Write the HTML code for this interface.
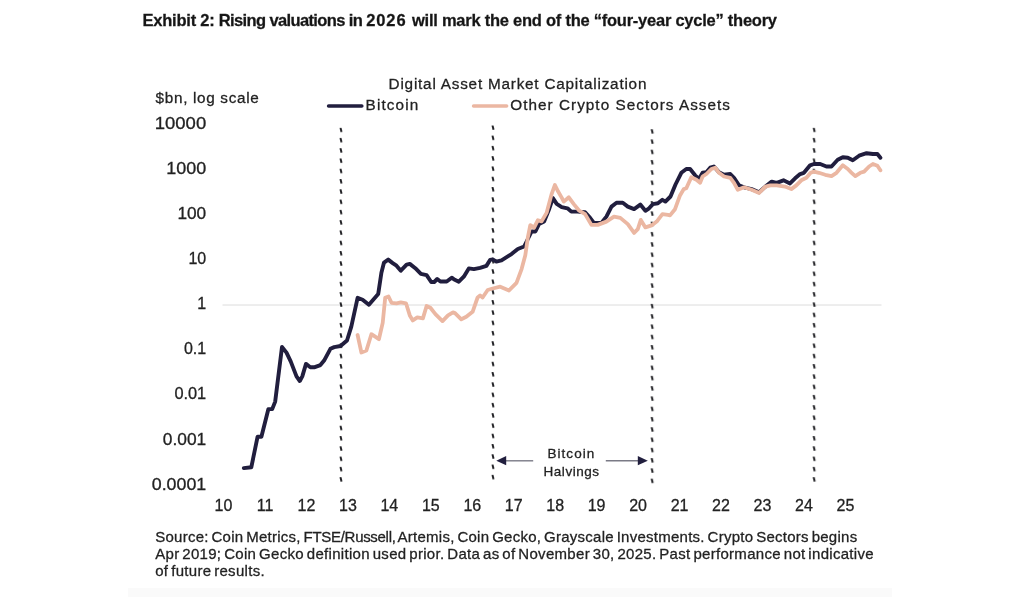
<!DOCTYPE html>
<html><head><meta charset="utf-8"><title>Exhibit 2</title>
<style>
html,body{margin:0;padding:0;background:#fff;}
body{width:1024px;height:597px;position:relative;overflow:hidden;font-family:"Liberation Sans",sans-serif;color:#222;-webkit-text-stroke:0.28px #222;}
.t{position:absolute;white-space:nowrap;}
#title{left:142.6px;top:10.18px;font-size:16.5px;font-weight:bold;color:#151515;line-height:20px;letter-spacing:-0.246px;}
#ctitle{left:388.6px;top:73.60px;font-size:15.3px;line-height:20px;letter-spacing:0.781px;}
#unit{left:155.6px;top:87.70px;font-size:15.3px;line-height:20px;letter-spacing:0.673px;}
#l1{left:365.6px;top:94.70px;font-size:15.3px;line-height:20px;letter-spacing:1.114px;}
#l2{left:510.3px;top:94.70px;font-size:15.3px;line-height:20px;letter-spacing:1.027px;}
.yl{position:absolute;left:100px;width:106.2px;text-align:right;font-size:16.0px;line-height:20px;white-space:nowrap;transform-origin:100% 50%;}
.xl{position:absolute;width:40px;text-align:center;font-size:16.0px;line-height:20px;white-space:nowrap;}
#a1{left:547.4px;top:445.42px;font-size:13.5px;line-height:18px;letter-spacing:1.063px;}
#a2{left:543.5px;top:462.52px;font-size:13.5px;line-height:18px;letter-spacing:0.546px;}
.s{left:155.2px;font-size:15px;line-height:18px;word-spacing:-1.6px;}
#s1{top:527.50px;letter-spacing:0.257px;}
#s2{top:544.80px;letter-spacing:0.299px;}
#s3{top:562.00px;letter-spacing:0.299px;}
#band{position:absolute;left:128px;top:588px;width:764px;height:9px;background:#fafafa;}
svg{position:absolute;left:0;top:0;}
</style></head><body>
<div id="title" class="t">Exhibit 2: <span style="letter-spacing:-0.62px">Rising valuations in </span><span style="letter-spacing:0.9px">2026 </span>will mark the end of the “four-year cycle” theory</div>
<div id="ctitle" class="t">Digital Asset Market Capitalization</div>
<div id="unit" class="t">$bn, log scale</div>
<div id="l1" class="t">Bitcoin</div>
<div id="l2" class="t">Other Crypto Sectors Assets</div>
<div class="yl" id="y0" style="top:113.76px;transform:scaleX(1.1551)">10000</div><div class="yl" id="y1" style="top:158.87px;transform:scaleX(1.1210)">1000</div><div class="yl" id="y2" style="top:203.98px;transform:scaleX(1.0785)">100</div><div class="yl" id="y3" style="top:249.09px;transform:scaleX(1.0000)">10</div><div class="yl" id="y4" style="top:294.20px;transform:scaleX(1.0000)">1</div><div class="yl" id="y5" style="top:339.31px;transform:scaleX(1.0000)">0.1</div><div class="yl" id="y6" style="top:384.42px;transform:scaleX(1.0212)">0.01</div><div class="yl" id="y7" style="top:429.53px;transform:scaleX(1.0837)">0.001</div><div class="yl" id="y8" style="top:474.64px;transform:scaleX(1.1116)">0.0001</div>
<div class="xl" id="x0" style="left:203.5px;top:495.86px">10</div><div class="xl" id="x1" style="left:245.0px;top:495.86px">11</div><div class="xl" id="x2" style="left:286.4px;top:495.86px">12</div><div class="xl" id="x3" style="left:327.9px;top:495.86px">13</div><div class="xl" id="x4" style="left:369.3px;top:495.86px">14</div><div class="xl" id="x5" style="left:410.8px;top:495.86px">15</div><div class="xl" id="x6" style="left:452.3px;top:495.86px">16</div><div class="xl" id="x7" style="left:493.7px;top:495.86px">17</div><div class="xl" id="x8" style="left:535.2px;top:495.86px">18</div><div class="xl" id="x9" style="left:576.6px;top:495.86px">19</div><div class="xl" id="x10" style="left:618.1px;top:495.86px">20</div><div class="xl" id="x11" style="left:659.6px;top:495.86px">21</div><div class="xl" id="x12" style="left:701.0px;top:495.86px">22</div><div class="xl" id="x13" style="left:742.5px;top:495.86px">23</div><div class="xl" id="x14" style="left:783.9px;top:495.86px">24</div><div class="xl" id="x15" style="left:825.4px;top:495.86px">25</div>
<div id="a1" class="t">Bitcoin</div>
<div id="a2" class="t">Halvings</div>
<div id="s1" class="t s">Source: Coin Metrics, <span style="letter-spacing:-0.3px">FTSE/Russell,</span> Artemis, Coin Gecko, Grayscale Investments. Crypto Sectors begins</div>
<div id="s2" class="t s">Apr 2019; Coin Gecko definition used prior. Data as of November 30, 2025. Past performance not indicative</div>
<div id="s3" class="t s">of future results.</div>
<div id="band"></div>
<svg width="1024" height="597" viewBox="0 0 1024 597">
<line x1="222.5" y1="305" x2="881.5" y2="305" stroke="#dcdcdc" stroke-width="1"/>
<pattern id="d0" x="338.0" y="127.6" width="6" height="10.28" patternUnits="userSpaceOnUse"><line x1="2.45" y1="0.1" x2="3.55" y2="4.5" stroke="#222226" stroke-width="2"/></pattern>
<rect x="338.0" y="127.6" width="6" height="354.8" fill="url(#d0)"/>
<pattern id="d1" x="490.0" y="125.3" width="6" height="10.28" patternUnits="userSpaceOnUse"><line x1="2.45" y1="0.1" x2="3.55" y2="4.5" stroke="#222226" stroke-width="2"/></pattern>
<rect x="490.0" y="125.3" width="6" height="354.8" fill="url(#d1)"/>
<pattern id="d2" x="649.2" y="129.1" width="6" height="10.28" patternUnits="userSpaceOnUse"><line x1="2.45" y1="0.1" x2="3.55" y2="4.5" stroke="#222226" stroke-width="2"/></pattern>
<rect x="649.2" y="129.1" width="6" height="354.8" fill="url(#d2)"/>
<pattern id="d3" x="811.2" y="127.6" width="6" height="10.28" patternUnits="userSpaceOnUse"><line x1="2.45" y1="0.1" x2="3.55" y2="4.5" stroke="#222226" stroke-width="2"/></pattern>
<rect x="811.2" y="127.6" width="6" height="354.8" fill="url(#d3)"/>
<line x1="328.6" y1="106" x2="361.8" y2="106" stroke="#211e3e" stroke-width="3.6" stroke-linecap="round"/>
<line x1="473.6" y1="106" x2="506.6" y2="106" stroke="#ebb7a2" stroke-width="3.6" stroke-linecap="round"/>
<polyline points="243.8,468.1 251.3,467.3 257.6,436.7 261.4,436.7 268.4,409.1 272.2,409.1 275.2,401.6 282.0,347.0 286.5,352.6 290.7,361.4 296.5,376.4 299.8,381.0 302.3,376.4 306.0,363.9 310.3,367.2 314.8,367.2 320.4,365.1 324.1,360.6 330.4,348.8 334.2,347.1 340.5,346.0 347.0,340.5 351.3,326.7 357.6,297.8 362.6,299.8 368.9,304.8 378.2,294.0 381.4,272.7 384.0,262.6 388.2,259.6 392.7,263.1 396.5,265.7 400.8,270.7 406.6,264.6 409.8,263.9 415.3,268.2 420.9,273.9 426.6,275.2 431.2,282.0 434.2,282.0 437.2,279.0 440.4,281.5 446.7,281.5 451.7,277.7 453.8,279.2 458.8,281.7 463.8,276.7 468.8,268.4 473.9,269.1 480.1,267.9 486.4,265.9 490.2,259.8 492.7,259.3 496.4,261.6 501.5,260.3 511.5,254.1 517.8,249.0 524.1,246.5 529.1,236.5 531.6,231.5 535.4,231.5 539.1,223.9 544.1,221.4 549.2,208.9 552.9,198.1 556.7,203.9 561.7,207.1 567.5,208.3 571.3,211.6 577.6,211.6 585.1,212.3 590.1,217.9 593.9,222.9 601.4,222.9 606.4,216.6 611.5,206.6 616.5,202.8 622.8,202.8 627.8,206.6 634.1,209.1 640.3,204.6 645.4,210.8 649.1,208.3 652.9,204.1 657.9,203.3 662.4,199.8 665.4,201.6 670.5,196.5 675.5,184.5 681.3,172.8 686.3,169.0 690.1,169.0 695.1,175.3 698.9,179.0 702.6,172.8 706.4,172.3 710.2,167.7 713.9,166.5 719.0,172.3 724.0,174.8 730.3,174.0 734.0,177.8 739.0,185.3 744.1,187.3 751.6,189.1 759.1,192.3 765.4,186.6 771.7,181.6 776.7,182.8 783.5,180.3 790.0,183.4 795.1,178.3 800.1,174.1 803.9,172.8 810.1,165.3 813.9,164.0 820.2,164.0 826.4,166.5 831.5,166.5 837.7,159.8 842.8,157.2 847.8,157.7 852.8,160.3 859.1,155.7 866.6,153.2 872.9,154.0 877.4,154.0 880.4,157.7" fill="none" stroke="#211e3e" stroke-width="3.9" stroke-linejoin="round" stroke-linecap="round"/>
<polyline points="357.6,335.0 361.4,352.5 366.4,350.5 371.4,334.2 375.2,336.7 378.9,339.2 382.7,322.9 385.2,297.8 388.5,296.5 391.5,302.8 396.5,303.3 400.8,302.3 406.0,303.3 409.8,315.4 412.8,320.4 417.3,317.4 422.9,318.4 426.6,306.0 430.4,307.8 435.4,314.1 442.5,321.1 448.0,315.4 453.0,312.4 455.0,313.1 461.3,319.3 466.3,316.8 472.6,311.8 477.6,297.5 480.1,295.5 482.6,297.5 487.7,290.0 492.7,288.5 500.2,286.7 509.0,290.5 516.5,282.9 521.6,269.1 525.3,255.3 527.8,237.7 530.3,225.2 534.1,227.7 537.9,220.2 541.6,221.4 546.7,212.6 551.7,193.8 554.9,185.0 558.0,191.3 561.7,197.6 563.8,201.6 568.8,197.3 573.8,204.1 578.8,210.3 585.1,214.1 591.4,224.9 597.7,224.9 606.4,221.6 614.0,216.6 620.3,217.9 627.8,224.1 634.1,232.9 637.8,229.2 640.8,219.9 645.4,227.4 651.6,225.4 656.7,221.6 662.4,214.1 668.0,214.9 670.0,215.4 675.0,209.2 680.0,195.4 683.8,189.1 686.3,188.3 691.3,177.3 696.4,179.8 700.1,182.8 702.6,176.5 706.4,174.0 711.4,169.0 715.2,167.7 719.0,172.8 724.0,176.5 730.3,177.8 734.0,182.8 737.8,189.8 744.1,187.3 751.6,189.8 759.1,192.9 765.4,186.6 770.4,185.3 776.7,185.3 785.0,186.6 791.3,189.1 796.3,185.4 801.3,180.3 806.4,177.8 810.6,172.8 813.9,171.6 818.9,172.8 825.2,174.8 831.5,176.1 836.5,172.8 842.8,165.3 847.8,169.0 851.6,172.8 855.3,176.1 860.3,172.8 864.1,171.6 869.1,166.5 872.9,164.0 877.4,165.8 880.4,170.3" fill="none" stroke="#ebb7a2" stroke-width="3.8" stroke-linejoin="round" stroke-linecap="round"/>
<g stroke="#7a7a86" stroke-width="1.4">
<line x1="505" y1="460.8" x2="533.2" y2="460.8"/>
<line x1="605.8" y1="460.8" x2="639" y2="460.8"/>
</g>
<polygon points="496.3,460.7 506.2,456.1 506.2,465.3" fill="#211e3e"/>
<polygon points="647.8,460.7 637.8,456.1 637.8,465.3" fill="#211e3e"/>
</svg>
</body></html>
